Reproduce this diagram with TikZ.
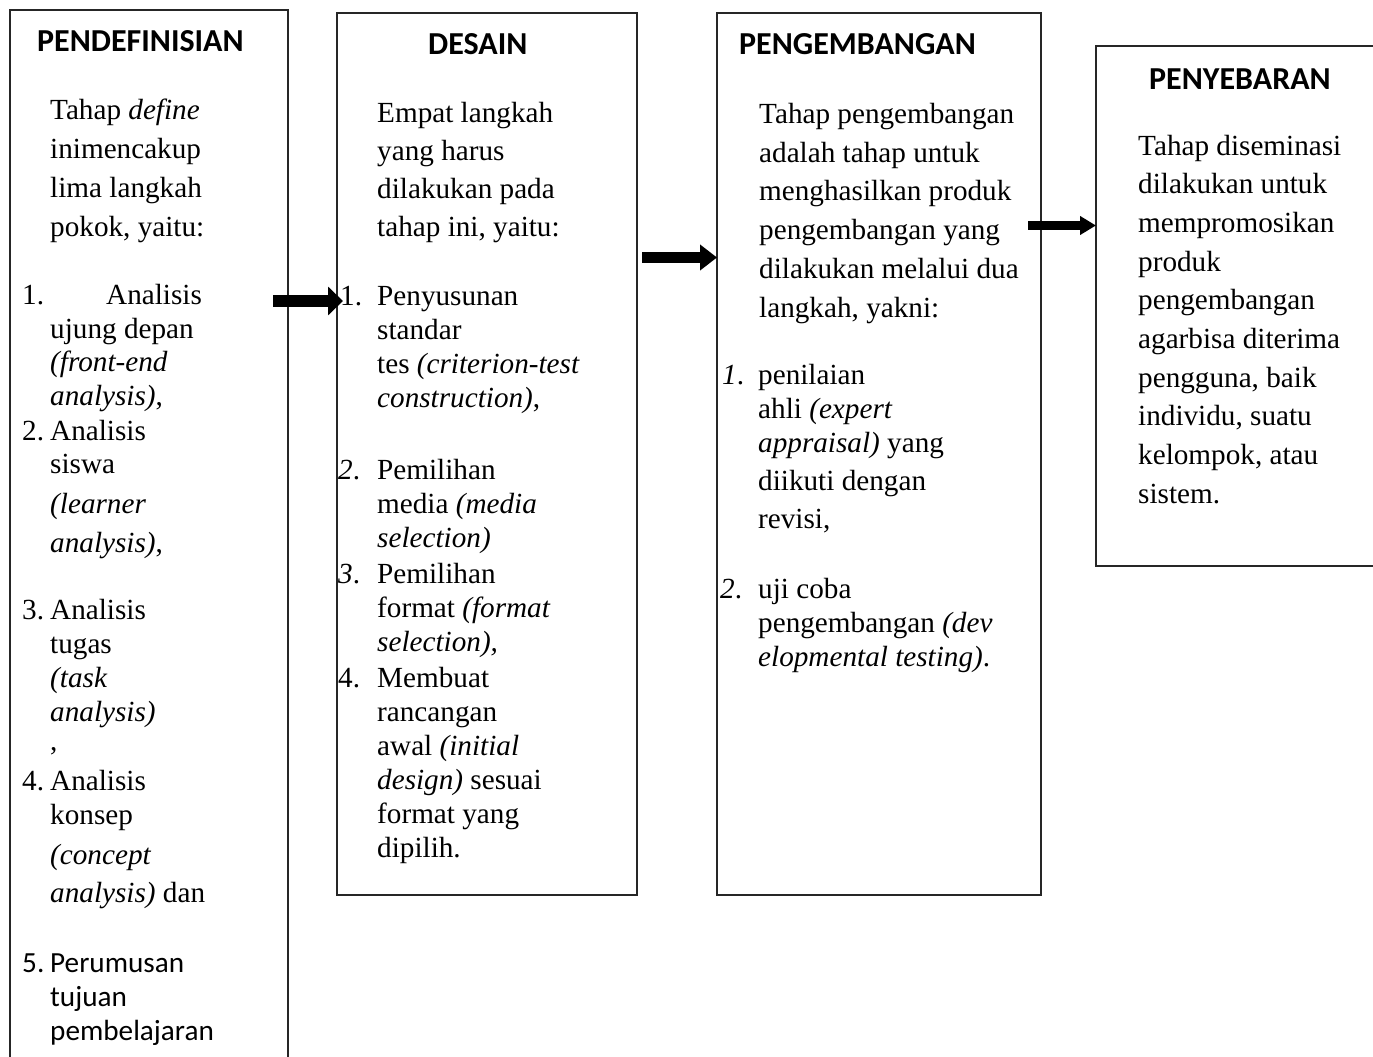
\documentclass[tikz,border=0pt]{standalone}
\usepackage{fontspec}
\setmainfont{Liberation Serif}
\newfontfamily\headfont{Carlito}
\usetikzlibrary{arrows.meta}
\newcommand{\tl}[4]{\node[txt] (#1) at (#2,#3) {#4};}
\newcommand{\hd}[4]{\node[hdr] (#1) at (#2,#3) {#4};}
\begin{document}
\begin{tikzpicture}[x=1pt,y=-1pt,
  txt/.style={anchor=base west,inner sep=0pt,font=\fontsize{29.2}{35}\selectfont},
  hdr/.style={anchor=base west,inner sep=0pt,font=\headfont\bfseries\fontsize{32}{38}\selectfont},
  boxline/.style={line width=1.6pt,black!85}]
\useasboundingbox (0,0) rectangle (1373,1057);
% boxes
\draw[boxline] (10,1062) -- (10,10) -- (288,10) -- (288,1062);
\draw[boxline] (337,13) rectangle (637,895);
\draw[boxline] (717,13) rectangle (1041,895);
\draw[boxline] (1375,46) -- (1096,46) -- (1096,566) -- (1375,566);
% box 1
\hd{h1}{37}{52}{PENDEFINISIAN}
\tl{a1}{50}{119}{Tahap \textit{define}}
\tl{a2}{50}{158}{inimencakup}
\tl{a3}{50}{197}{lima langkah}
\tl{a4}{50}{236}{pokok, yaitu:}
\tl{a5n}{22}{304}{1.}
\tl{a5}{106}{304}{Analisis}
\tl{a6}{50}{338}{ujung depan}
\tl{a7}{50}{371}{\textit{(front-end}}
\tl{a8}{50}{405}{\textit{analysis)},}
\tl{a9n}{22}{440}{2.}
\tl{a9}{50}{440}{Analisis}
\tl{a10}{50}{473}{siswa}
\tl{a11}{50}{513}{\textit{(learner}}
\tl{a12}{50}{552}{\textit{analysis)},}
\tl{a13n}{22}{619}{3.}
\tl{a13}{50}{619}{Analisis}
\tl{a14}{50}{653}{tugas}
\tl{a15}{50}{687}{\textit{(task}}
\tl{a16}{50}{721}{\textit{analysis)}}
\tl{a17}{50}{750}{,}
\tl{a18n}{22}{790}{4.}
\tl{a18}{50}{790}{Analisis}
\tl{a19}{50}{824}{konsep}
\tl{a20}{50}{864}{\textit{(concept}}
\tl{a21}{50}{902}{\textit{analysis)} dan}
\tl{a22n}{22}{972}{\headfont 5.}
\tl{a22}{50}{972}{\headfont Perumusan}
\tl{a23}{50}{1006}{\headfont tujuan}
\tl{a24}{50}{1040}{\headfont pembelajaran}
% box 2
\hd{h2}{428}{55}{DESAIN}
\tl{b1}{377}{122}{Empat langkah}
\tl{b2}{377}{160}{yang harus}
\tl{b3}{377}{198}{dilakukan pada}
\tl{b4}{377}{236}{tahap ini, yaitu:}
\tl{b5n}{340}{305}{1.}
\tl{b5}{377}{305}{Penyusunan}
\tl{b6}{377}{339}{standar}
\tl{b7}{377}{373}{tes \textit{(criterion-test}}
\tl{b8}{377}{407}{\textit{construction)},}
\tl{b9n}{338}{479}{\textit{2}.}
\tl{b9}{377}{479}{Pemilihan}
\tl{b10}{377}{513}{media \textit{(media}}
\tl{b11}{377}{547}{\textit{selection)}}
\tl{b12n}{338}{583}{\textit{3}.}
\tl{b12}{377}{583}{Pemilihan}
\tl{b13}{377}{617}{format \textit{(format}}
\tl{b14}{377}{651}{\textit{selection),}}
\tl{b15n}{338}{687}{4.}
\tl{b15}{377}{687}{Membuat}
\tl{b16}{377}{721}{rancangan}
\tl{b17}{377}{755}{awal \textit{(initial}}
\tl{b18}{377}{789}{\textit{design)} sesuai}
\tl{b19}{377}{823}{format yang}
\tl{b20}{377}{857}{dipilih.}
% box 3
\hd{h3}{739}{55}{PENGEMBANGAN}
\tl{c1}{759}{123}{Tahap pengembangan}
\tl{c2}{759}{162}{adalah tahap untuk}
\tl{c3}{759}{200}{menghasilkan produk}
\tl{c4}{759}{239}{pengembangan yang}
\tl{c5}{759}{278}{dilakukan melalui dua}
\tl{c6}{759}{317}{langkah, yakni:}
\tl{c7n}{722}{384}{\textit{1}.}
\tl{c7}{758}{384}{penilaian}
\tl{c8}{758}{418}{ahli \textit{(expert}}
\tl{c9}{758}{452}{\textit{appraisal)} yang}
\tl{c10}{758}{490}{diikuti dengan}
\tl{c11}{758}{528}{revisi,}
\tl{c12n}{720}{598}{\textit{2}.}
\tl{c12}{758}{598}{uji coba}
\tl{c13}{758}{632}{pengembangan \textit{(dev}}
\tl{c14}{758}{666}{\textit{elopmental testing)}.}
% box 4
\hd{h4}{1149}{89}{PENYEBARAN}
\tl{d1}{1138}{155}{Tahap diseminasi}
\tl{d2}{1138}{193.7}{dilakukan untuk}
\tl{d3}{1138}{232.4}{mempromosikan}
\tl{d4}{1138}{271.1}{produk}
\tl{d5}{1138}{309.8}{pengembangan}
\tl{d6}{1138}{348.5}{agarbisa diterima}
\tl{d7}{1138}{387.2}{pengguna, baik}
\tl{d8}{1138}{425.9}{individu, suatu}
\tl{d9}{1138}{464.6}{kelompok, atau}
\tl{d10}{1138}{503.3}{sistem.}
% arrows
\coordinate (p1s) at (273,301);
\coordinate (p1e) at (343,301);
\coordinate (p2s) at (642,257.5);
\coordinate (p2e) at (717,257.5);
\coordinate (p3s) at (1028,225.5);
\coordinate (p3e) at (1096,225.5);
\draw[line width=12pt,-{Triangle[length=15pt,width=28pt]}] (p1s) -- (p1e);
\draw[line width=11pt,-{Triangle[length=17pt,width=25pt]}] (p2s) -- (p2e);
\draw[line width=9pt,-{Triangle[length=16pt,width=18pt]}] (p3s) -- (p3e);
\end{tikzpicture}
\end{document}
